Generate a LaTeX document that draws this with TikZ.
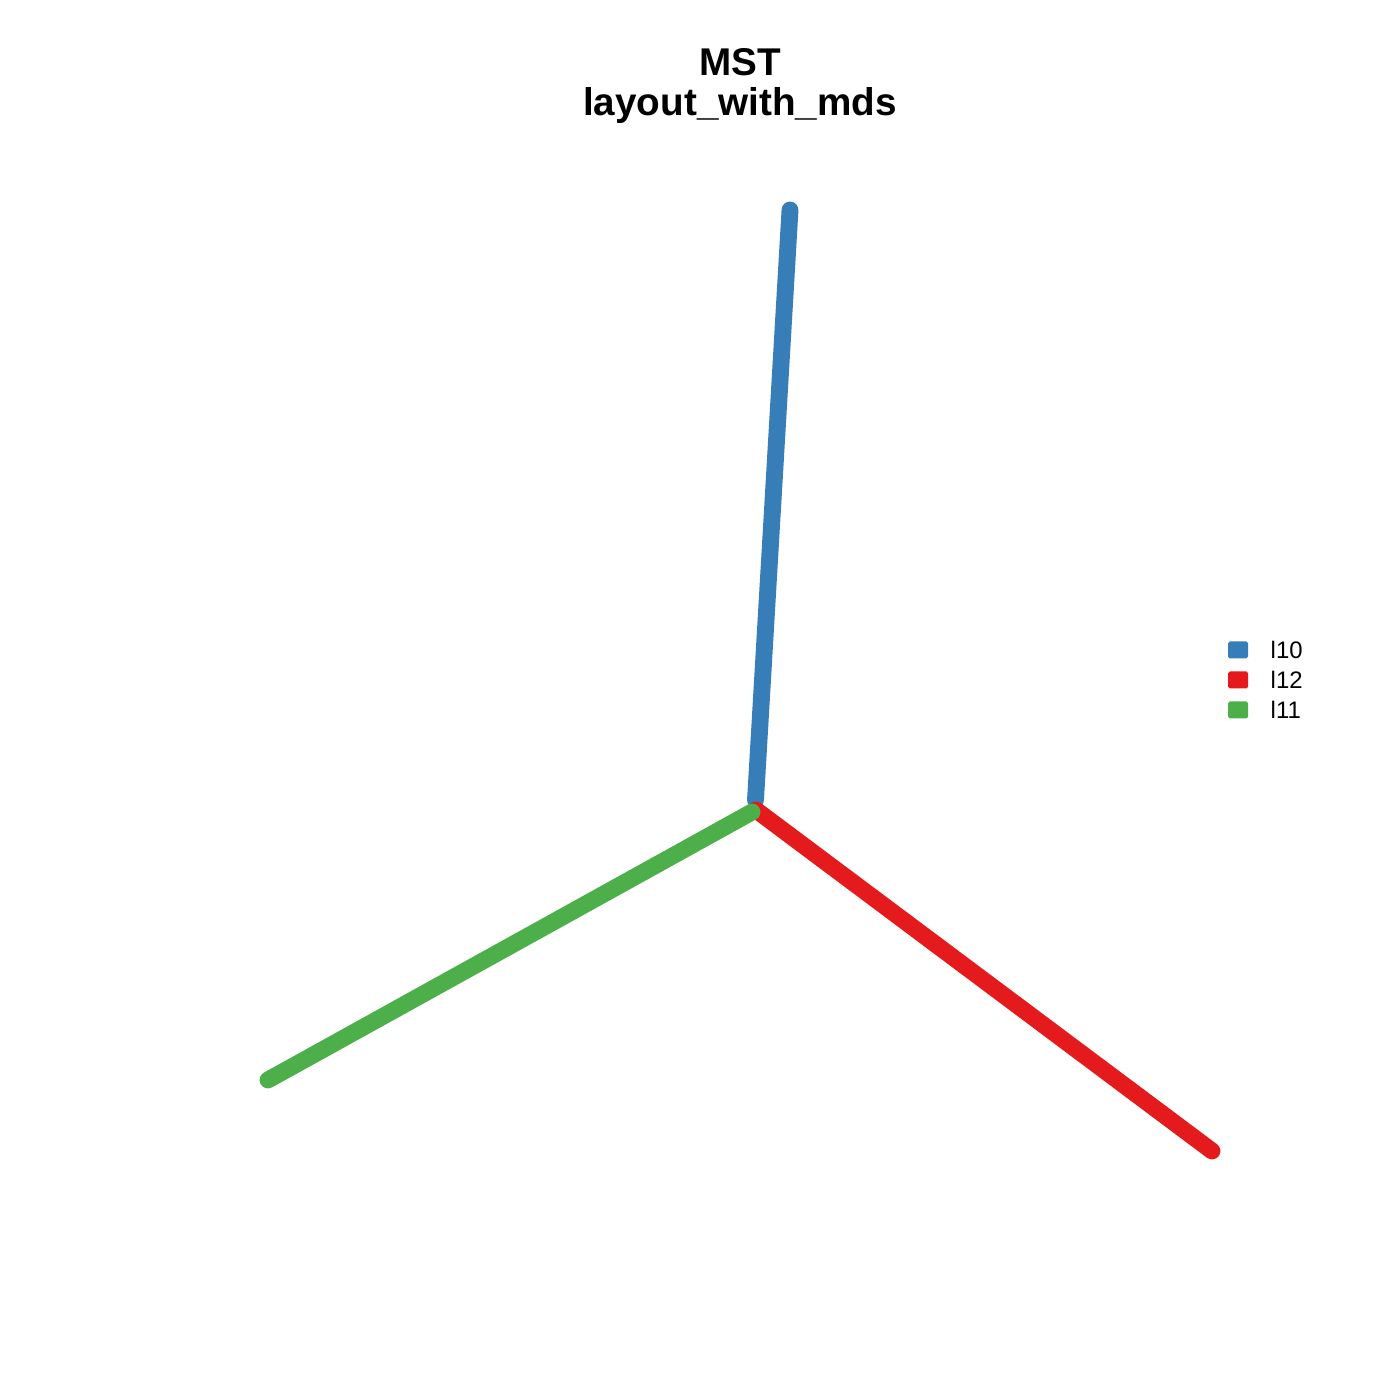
\documentclass[tikz,border=0pt]{standalone}
\usepackage{fontspec}
\setmainfont{Liberation Sans}
\usetikzlibrary{positioning}
\definecolor{armblue}{RGB}{55, 126, 184}
\definecolor{armred}{RGB}{228, 26, 28}
\definecolor{armgreen}{RGB}{77, 175, 74}

\begin{document}
\begin{tikzpicture}[
  arm/.style={line width=4.8pt, line cap=round},
  keybox/.style={minimum width=0.2cm, minimum height=0.17cm, inner sep=0pt, rounded corners=0.5pt},
  keytext/.style={font=\fontsize{6.8}{8}\selectfont, anchor=west, inner sep=0pt}
]
  \useasboundingbox (0,0) rectangle (14,14);
  % title
  \node[font=\fontsize{11}{11.4}\selectfont\bfseries, align=center] (title) at (7.40, 13.14) {MST\\layout\_with\_mds};

  % tree
  \coordinate (topend) at (7.90, 11.90);
  \coordinate (hubb) at (7.555, 6.00);
  \coordinate (hubr) at (7.56, 5.90);
  \coordinate (hubg) at (7.52, 5.88);
  \coordinate (rightend) at (12.12, 2.49);
  \coordinate (leftend) at (2.68, 3.20);
  \draw[arm, armblue] (topend) -- (hubb);
  \draw[arm, armred] (hubr) -- (rightend);
  \draw[arm, armgreen] (leftend) -- (hubg);

  % legend
  \node[keybox, fill=armblue] (kb) at (12.38, 7.50) {};
  \node[keybox, fill=armred] (kr) at (12.38, 7.20) {};
  \node[keybox, fill=armgreen] (kg) at (12.38, 6.90) {};
  \node[keytext] at (12.70, 7.50) {l10};
  \node[keytext] at (12.70, 7.20) {l12};
  \node[keytext] at (12.70, 6.90) {l11};
\end{tikzpicture}
\end{document}
